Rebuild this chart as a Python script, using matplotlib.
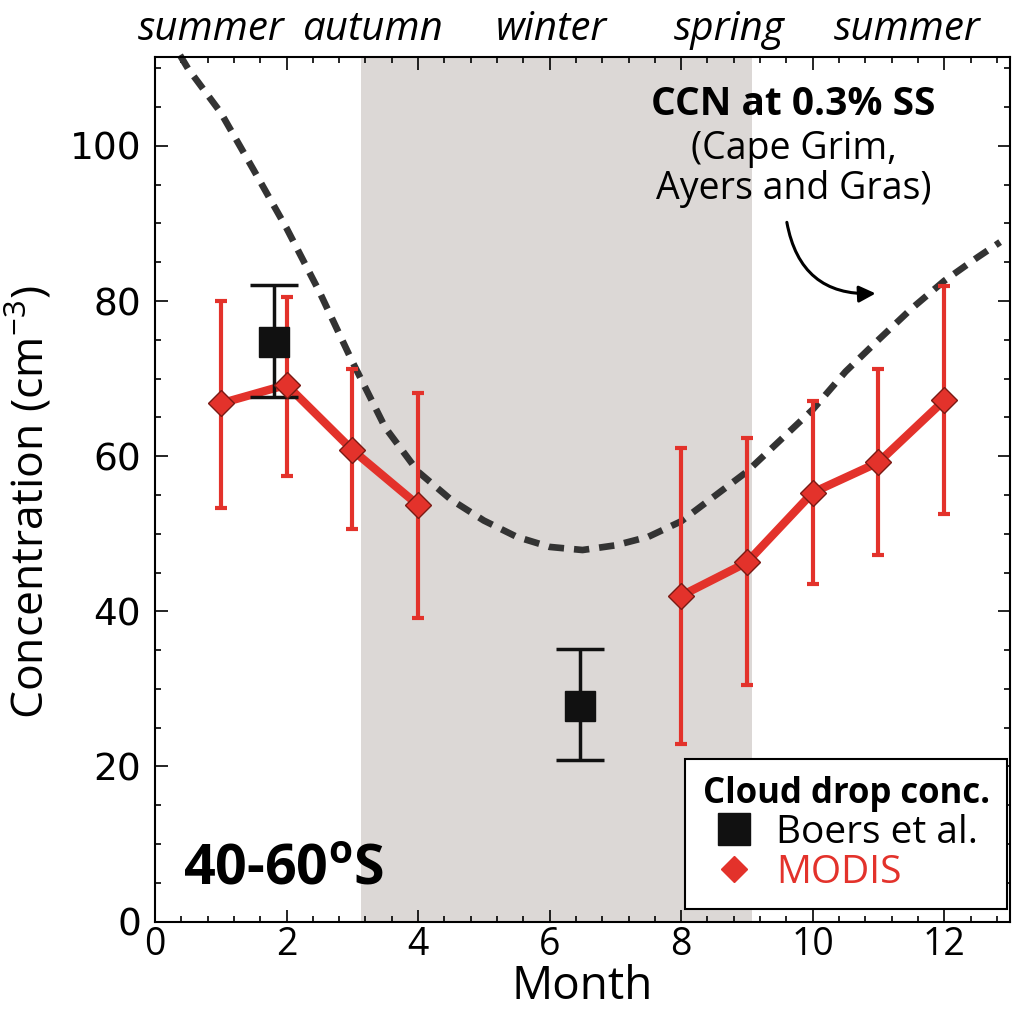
import matplotlib
matplotlib.use("Agg")
import matplotlib.pyplot as plt
from matplotlib import font_manager
from matplotlib.ticker import MultipleLocator
from matplotlib.lines import Line2D
import numpy as np

# ---------------- data ----------------
modis_month = [1, 2, 3, 4, 5, 6, 7, 8, 9, 10, 11, 12]
modis_conc = [66.8, 69.2, 60.8, 53.7, np.nan, np.nan, np.nan, 42.0, 46.3, 55.3, 59.2, 67.2]
modis_hi = [80.0, 80.5, 71.3, 68.2, np.nan, np.nan, np.nan, 61.0, 62.3, 67.1, 71.3, 82.0]
modis_lo = [53.3, 57.5, 50.6, 39.1, np.nan, np.nan, np.nan, 22.9, 30.5, 43.5, 47.2, 52.5]

boers_month = [1.81, 6.46]
boers_conc = [74.7, 27.8]
boers_hi = [82.1, 35.2]
boers_lo = [67.6, 20.8]

ccn_month = [0.38, 0.5, 1.0, 1.5, 2.0, 2.5, 3.0, 3.5, 4.0, 4.5, 5.0, 5.5, 6.0, 6.5,
             7.0, 7.5, 8.0, 8.5, 9.0, 9.5, 10.0, 10.5, 11.0, 11.5, 12.0, 12.5, 12.85]
ccn_conc = [111.7, 110.0, 104.3, 96.9, 89.4, 81.2, 72.2, 63.7, 58.0, 54.4, 51.7, 49.6,
            48.3, 47.9, 48.5, 49.6, 51.6, 54.8, 58.0, 62.0, 66.0, 70.9, 75.0, 79.0,
            82.6, 85.6, 87.6]

winter_span = [3.13, 9.08]
season_names = ["summer", "autumn", "winter", "spring", "summer"]
season_pos = [0.86, 3.31, 6.02, 8.73, 11.43]

xticks = [0, 2, 4, 6, 8, 10, 12]
yticks = [0, 20, 40, 60, 80, 100]

# ---------------- fonts ----------------
avail = {f.name for f in font_manager.fontManager.ttflist}
narrow = "Liberation Sans Narrow" if "Liberation Sans Narrow" in avail else "Open Sans"
main = "Open Sans" if "Open Sans" in avail else "DejaVu Sans"
plt.rcParams["font.family"] = [narrow, "DejaVu Sans"]
plt.rcParams["mathtext.fontset"] = "custom"
plt.rcParams["mathtext.rm"] = narrow
plt.rcParams["mathtext.bf"] = main + ":bold"

RED = "#e3322b"
GRAY = "#dcd8d6"

fig = plt.figure(figsize=(10.17, 10.13), dpi=100)
ax = fig.add_axes([0.1524, 0.0903, 0.8407, 0.8537])

ax.axvspan(winter_span[0], winter_span[1], color=GRAY, zorder=0, lw=0)

ax.plot(ccn_month, ccn_conc, color="#333333", lw=4.8,
        linestyle=(0, (2.3, 1.5)), dash_capstyle="butt", zorder=2, clip_on=False)

mc = np.array(modis_conc)
ax.errorbar(modis_month, mc,
            yerr=[mc - np.array(modis_lo), np.array(modis_hi) - mc],
            fmt="none", ecolor=RED, elinewidth=3, capsize=4, capthick=3, zorder=3)
ax.plot(modis_month, mc, color=RED, lw=6, zorder=4)
ax.plot(modis_month, mc, linestyle="none", marker="D", markersize=13,
        markerfacecolor=RED, markeredgecolor="#7a1a14", markeredgewidth=1.0, zorder=6)

bc = np.array(boers_conc)
ax.errorbar(boers_month, bc,
            yerr=[bc - np.array(boers_lo), np.array(boers_hi) - bc],
            fmt="s", color="#111111", markersize=22, elinewidth=2.5,
            capsize=17, capthick=2.5, zorder=5)

ax.set_xlim(0, 13)
ax.set_ylim(0, 111.5)
ax.set_xticks(xticks)
ax.set_yticks(yticks)
ax.xaxis.set_minor_locator(MultipleLocator(0.4))
ax.yaxis.set_minor_locator(MultipleLocator(5))
ax.tick_params(which="both", direction="in", top=True, right=True, width=1.2)
ax.tick_params(which="major", length=9)
ax.tick_params(which="minor", length=4.5)
ax.tick_params(axis="x", which="major", labelsize=27, pad=3)
ax.tick_params(axis="y", which="major", labelsize=27, pad=10)
for lab in ax.get_yticklabels():
    lab.set_fontfamily(["DejaVu Sans"])
for s in ax.spines.values():
    s.set_linewidth(1.5)

ax.set_xlabel("Month", fontsize=33, labelpad=0)
ax.set_ylabel("Concentration (cm$^{-3}$)", fontsize=32)
ax.yaxis.set_label_coords(-0.118, 0.485)

for name, pos in zip(season_names, season_pos):
    ax.text(pos, 1.008, name, transform=ax.get_xaxis_transform(),
            ha="center", va="bottom", fontsize=29, style="italic", clip_on=False)

ax.text(9.71, 105.3, "CCN at 0.3% SS", ha="center", va="center",
        fontsize=28, fontweight="bold", family=[main, "DejaVu Sans"], zorder=7)
ax.text(9.71, 99.6, "(Cape Grim,", ha="center", va="center",
        fontsize=27, family=[main, "DejaVu Sans"], zorder=7)
ax.text(9.71, 94.4, "Ayers and Gras)", ha="center", va="center",
        fontsize=27, family=[main, "DejaVu Sans"], zorder=7)
ax.annotate("", xy=(11.0, 81.0), xytext=(9.6, 90.5),
            arrowprops=dict(arrowstyle="-|>,head_length=1.0,head_width=0.5",
                            color="black", lw=2.2,
                            connectionstyle="arc3,rad=0.45"), zorder=7)

ax.text(0.033, 0.028, "40-60$^{\\mathbf{o}}$S", transform=ax.transAxes,
        fontsize=40, fontweight="bold", family=[main, "DejaVu Sans"],
        ha="left", va="bottom", zorder=7)

h1 = Line2D([], [], linestyle="none", marker="s", markersize=23,
            color="#111111")
h2 = Line2D([], [], linestyle="none", marker="D", markersize=13,
            markerfacecolor=RED, markeredgecolor=RED)
leg = ax.legend([h1, h2], ["Boers et al.", "MODIS"], loc="lower right",
                bbox_to_anchor=(0.997, 0.014), title="Cloud drop conc.",
                fancybox=False, framealpha=1, edgecolor="black",
                prop={"family": [main, "DejaVu Sans"], "size": 28},
                title_fontproperties={"family": [main, "DejaVu Sans"],
                                      "size": 25, "weight": "bold"},
                handlelength=1.0, handletextpad=0.6, borderpad=0.45,
                labelspacing=0.05, borderaxespad=0)
leg.get_frame().set_linewidth(1.5)
leg.set_zorder(8)
leg.get_texts()[1].set_color(RED)

fig.savefig("out.png", dpi=100)
